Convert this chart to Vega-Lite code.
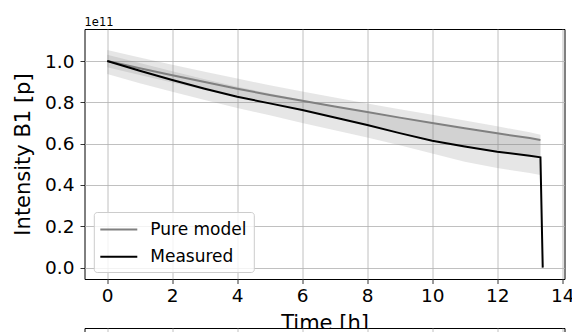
{
  "$schema": "https://vega.github.io/schema/vega-lite/v6.json",
  "autosize": {"type": "pad"},
  "padding": {"left": 11.5, "top": 16, "right": 0, "bottom": 0},
  "background": "white",
  "spacing": 49,
  "bounds": "flush",
  "config": {
    "font": "DejaVu Sans",
    "view": {"stroke": "black", "strokeWidth": 1, "fill": "white"},
    "axis": {
      "grid": true, "gridColor": "#b0b0b0", "gridWidth": 0.8,
      "domain": false, "tickColor": "black", "tickSize": 4.5, "tickWidth": 0.8,
      "labelColor": "black", "labelFont": "DejaVu Sans", "labelFontSize": 18.5,
      "titleFont": "DejaVu Sans", "titleFontSize": 21, "titleFontWeight": "normal", "titleColor": "black",
      "labelFlush": false, "labelOverlap": false
    },
    "legend": {
      "orient": "none", "legendX": 9.3, "legendY": 183,
      "symbolType": "M-2,0H2", "symbolStrokeWidth": 2, "symbolSize": 342, "symbolOffset": 7.5,
      "labelFont": "DejaVu Sans", "labelFontSize": 17, "labelColor": "black", "labelOffset": 21,
      "padding": 7, "rowPadding": 8.2,
      "fillColor": "rgba(255,255,255,0.8)", "strokeColor": "#cccccc", "cornerRadius": 3
    }
  },
  "datasets": {
    "main": [
      {"t": 0, "pure": 1.000, "phi": 1.053, "plo": 0.970, "meas": 1.000, "mhi": 1.030, "mlo": 0.937},
      {"t": 1, "pure": 0.965, "phi": 1.017, "plo": 0.932, "meas": 0.953, "mhi": 0.990, "mlo": 0.893},
      {"t": 2, "pure": 0.931, "phi": 0.982, "plo": 0.896, "meas": 0.908, "mhi": 0.950, "mlo": 0.851},
      {"t": 3, "pure": 0.898, "phi": 0.948, "plo": 0.860, "meas": 0.866, "mhi": 0.912, "mlo": 0.811},
      {"t": 4, "pure": 0.866, "phi": 0.915, "plo": 0.826, "meas": 0.827, "mhi": 0.876, "mlo": 0.773},
      {"t": 5, "pure": 0.836, "phi": 0.883, "plo": 0.793, "meas": 0.795, "mhi": 0.843, "mlo": 0.737},
      {"t": 6, "pure": 0.808, "phi": 0.853, "plo": 0.760, "meas": 0.763, "mhi": 0.812, "mlo": 0.700},
      {"t": 7, "pure": 0.780, "phi": 0.824, "plo": 0.726, "meas": 0.727, "mhi": 0.782, "mlo": 0.665},
      {"t": 8, "pure": 0.753, "phi": 0.795, "plo": 0.692, "meas": 0.690, "mhi": 0.754, "mlo": 0.630},
      {"t": 9, "pure": 0.726, "phi": 0.767, "plo": 0.657, "meas": 0.651, "mhi": 0.726, "mlo": 0.592},
      {"t": 10, "pure": 0.700, "phi": 0.740, "plo": 0.620, "meas": 0.614, "mhi": 0.700, "mlo": 0.552},
      {"t": 11, "pure": 0.675, "phi": 0.712, "plo": 0.588, "meas": 0.586, "mhi": 0.674, "mlo": 0.513},
      {"t": 12, "pure": 0.650, "phi": 0.684, "plo": 0.560, "meas": 0.561, "mhi": 0.650, "mlo": 0.482},
      {"t": 13, "pure": 0.627, "phi": 0.655, "plo": 0.540, "meas": 0.541, "mhi": 0.626, "mlo": 0.458},
      {"t": 13.33, "pure": 0.618, "phi": 0.643, "plo": 0.533, "meas": 0.534, "mhi": 0.618, "mlo": 0.448},
      {"t": 13.4, "pure": null, "phi": null, "plo": null, "meas": 0.0, "mhi": null, "mlo": null}
    ]
  },
  "vconcat": [
    {
      "width": 480,
      "height": 250,
      "title": {"text": "1e11", "anchor": "start", "frame": "group", "fontSize": 11.5, "fontWeight": "normal", "font": "DejaVu Sans", "color": "black", "offset": 1},
      "data": {"name": "main"},
      "encoding": {
        "x": {
          "field": "t", "type": "quantitative",
          "scale": {"domain": [-0.7, 14.07], "nice": false, "zero": false},
          "axis": {"values": [0, 2, 4, 6, 8, 10, 12, 14], "format": "d", "title": "Time [h]", "labelPadding": 3, "titlePadding": 7.5}
        }
      },
      "layer": [
        {
          "mark": {"type": "area", "color": "#808080", "opacity": 0.2},
          "encoding": {
            "y": {"field": "plo", "type": "quantitative", "scale": {"domain": [-0.055, 1.155], "nice": false, "zero": false},
                  "axis": {"values": [0, 0.2, 0.4, 0.6, 0.8, 1.0], "format": ".1f", "title": "Intensity B1 [p]", "labelPadding": 6, "titlePadding": 11.5}},
            "y2": {"field": "phi"}
          }
        },
        {
          "mark": {"type": "area", "color": "#808080", "opacity": 0.2},
          "encoding": {
            "y": {"field": "mlo", "type": "quantitative"},
            "y2": {"field": "mhi"}
          }
        },
        {
          "mark": {"type": "line", "strokeWidth": 2},
          "encoding": {
            "y": {"field": "pure", "type": "quantitative"},
            "color": {"datum": "Pure model", "type": "nominal",
                      "scale": {"domain": ["Pure model", "Measured"], "range": ["#808080", "black"]},
                      "legend": {"title": null}}
          }
        },
        {
          "mark": {"type": "line", "strokeWidth": 2},
          "encoding": {
            "y": {"field": "meas", "type": "quantitative"},
            "color": {"datum": "Measured", "type": "nominal"}
          }
        }
      ]
    },
    {
      "width": 480,
      "height": 100,
      "data": {"name": "main"},
      "mark": {"type": "point", "opacity": 0},
      "encoding": {
        "x": {
          "field": "t", "type": "quantitative",
          "scale": {"domain": [-0.7, 14.07], "nice": false, "zero": false},
          "axis": {"values": [0, 2, 4, 6, 8, 10, 12, 14], "labels": false, "ticks": false, "title": null}
        },
        "y": {"field": "meas", "type": "quantitative", "axis": null}
      }
    }
  ]
}
